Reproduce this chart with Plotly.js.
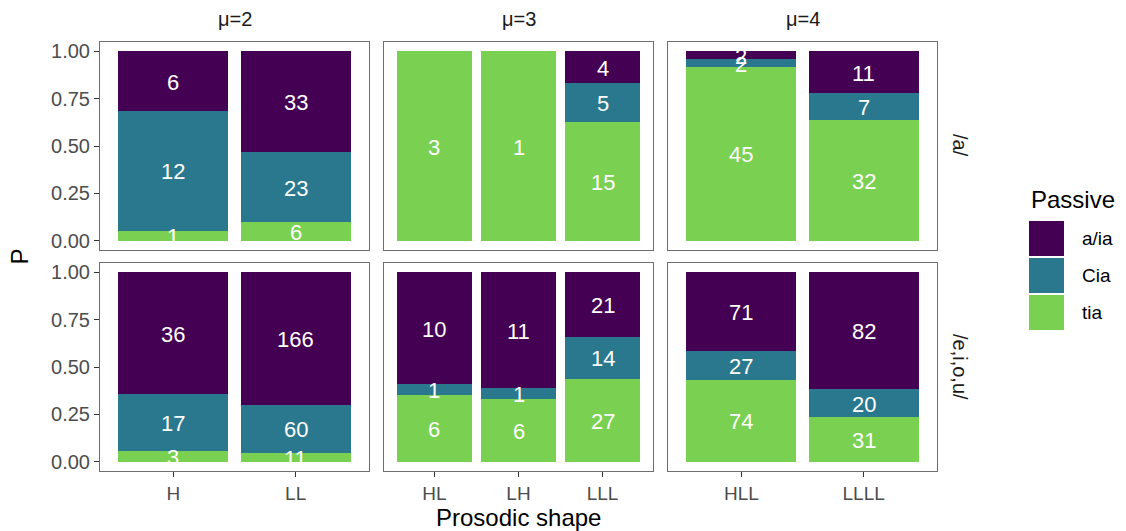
<!DOCTYPE html>
<html>
<head>
<meta charset="utf-8">
<script src="https://cdn.plot.ly/plotly-3.0.1.min.js"></script>
<style>html,body{margin:0;padding:0;background:#fff;}#chart{width:1126px;height:531px;}</style>
</head>
<body>
<div id="chart"></div>
<script>
// ---- data ----
const vowels = ['/a/', '/e,i,o,u/'];
const mus = ['μ=2', 'μ=3', 'μ=4'];
const shapeCats = [['H', 'LL'], ['HL', 'LH', 'LLL'], ['HLL', 'LLLL']];
const passive = ['a/ia', 'Cia', 'tia'];
const passiveColors = ['#440154', '#2A788E', '#7AD151'];
// counts per vowel row, per μ facet, per prosodic shape
const aia_a    = [[6, 33], [0, 0, 4], [2, 11]];
const cia_a    = [[12, 23], [0, 0, 5], [2, 7]];
const tia_a    = [[1, 6], [3, 1, 15], [45, 32]];
const aia_eiou = [[36, 166], [10, 11, 21], [71, 82]];
const cia_eiou = [[17, 60], [1, 1, 14], [27, 20]];
const tia_eiou = [[3, 11], [6, 6, 27], [74, 31]];
const yTicks = [0, 0.25, 0.5, 0.75, 1];
const yTickText = ['0.00', '0.25', '0.50', '0.75', '1.00'];

const rows = [
  {aia: aia_a, cia: cia_a, tia: tia_a},
  {aia: aia_eiou, cia: cia_eiou, tia: tia_eiou}
];

// ---- layout geometry (pixels) ----
const W = 1126, H = 531;
const colPx = [[100, 369], [384, 653], [668, 937]];
const rowPx = [[42, 250], [263, 471]];
const fx = p => p / W;
const fy = p => 1 - p / H;

const FONT = 'Liberation Sans, Arial, sans-serif';
const traces = [];
const layout = {
  width: W, height: H,
  margin: {l: 0, r: 0, t: 0, b: 0},
  paper_bgcolor: '#ffffff', plot_bgcolor: '#ffffff',
  showlegend: false,
  barmode: 'stack',
  font: {family: FONT},
  annotations: [], shapes: []
};

for (let r = 0; r < 2; r++) {
  for (let c = 0; c < 3; c++) {
    const k = r * 3 + c + 1;
    const xa = 'x' + (k === 1 ? '' : k), ya = 'y' + (k === 1 ? '' : k);
    const cats = shapeCats[c];
    const series = [rows[r].tia[c], rows[r].cia[c], rows[r].aia[c]];
    const names = ['tia', 'Cia', 'a/ia'];
    const cols = [passiveColors[2], passiveColors[1], passiveColors[0]];
    const totals = cats.map((_, i) => series.reduce((s, a) => s + a[i], 0));
    const cum = cats.map(() => 0);
    series.forEach((vals, si) => {
      const props = vals.map((v, i) => v / totals[i]);
      traces.push({
        type: 'bar', x: cats, y: props, name: names[si], xaxis: xa, yaxis: ya,
        marker: {color: cols[si], line: {width: 0}}, width: 0.9,
        hoverinfo: 'x+y+name'
      });
      vals.forEach((v, i) => {
        if (v > 0) {
          layout.annotations.push({
            text: String(v), xref: xa, yref: ya, x: cats[i], y: cum[i] + props[i] / 2,
            showarrow: false, xanchor: 'center', yanchor: 'middle', yshift: -1,
            font: {color: '#ffffff', size: 22, family: FONT}
          });
        }
        cum[i] += props[i];
      });
    });
    const n = cats.length;
    layout['xaxis' + (k === 1 ? '' : k)] = {
      domain: [fx(colPx[c][0]), fx(colPx[c][1])], anchor: ya,
      type: 'category', categoryorder: 'array', categoryarray: cats,
      range: [-0.6, n - 0.4], showgrid: false, zeroline: false,
      showline: true, mirror: true, linecolor: '#6e6e6e', linewidth: 1,
      ticks: r === 1 ? 'outside' : '', ticklen: 5, tickcolor: '#333333',
      showticklabels: r === 1,
      tickfont: {size: 19, color: '#4d4d4d', family: FONT}, fixedrange: true
    };
    layout['yaxis' + (k === 1 ? '' : k)] = {
      domain: [fy(rowPx[r][1]), fy(rowPx[r][0])], anchor: xa,
      range: [-0.05, 1.05], tickvals: yTicks, ticktext: yTickText,
      showgrid: false, zeroline: false,
      showline: true, mirror: true, linecolor: '#6e6e6e', linewidth: 1,
      ticks: c === 0 ? 'outside' : '', ticklen: 5, tickcolor: '#333333',
      showticklabels: c === 0,
      tickfont: {size: 20, color: '#4d4d4d', family: FONT}, fixedrange: true
    };
  }
}

// strip labels
mus.forEach((m, c) => {
  layout.annotations.push({
    text: m, xref: 'paper', yref: 'paper',
    x: fx((colPx[c][0] + colPx[c][1]) / 2), y: fy(19),
    showarrow: false, xanchor: 'center', yanchor: 'middle',
    font: {size: 20, color: '#1a1a1a', family: FONT}
  });
});
vowels.forEach((v, r) => {
  layout.annotations.push({
    text: v, xref: 'paper', yref: 'paper',
    x: fx(960), y: fy((rowPx[r][0] + rowPx[r][1]) / 2),
    showarrow: false, xanchor: 'center', yanchor: 'middle', textangle: 90,
    font: {size: 20, color: '#1a1a1a', family: FONT}
  });
});
// axis titles
layout.annotations.push({
  text: 'Prosodic shape', xref: 'paper', yref: 'paper',
  x: fx((colPx[0][0] + colPx[2][1]) / 2), y: fy(517),
  showarrow: false, xanchor: 'center', yanchor: 'middle',
  font: {size: 24, color: '#000000', family: FONT}
});
layout.annotations.push({
  text: 'P', xref: 'paper', yref: 'paper',
  x: fx(19), y: fy((rowPx[0][0] + rowPx[1][1]) / 2),
  showarrow: false, xanchor: 'center', yanchor: 'middle', textangle: -90,
  font: {size: 24, color: '#000000', family: FONT}
});
// legend (manual, ggplot style)
layout.annotations.push({
  text: 'Passive', xref: 'paper', yref: 'paper',
  x: fx(1029), y: fy(199), showarrow: false, xanchor: 'left', yanchor: 'middle',
  font: {size: 24, color: '#000000', family: FONT}
});
passive.forEach((p, i) => {
  const top = 221 + i * 37;
  layout.shapes.push({
    type: 'rect', xref: 'paper', yref: 'paper',
    x0: fx(1029), x1: fx(1064), y0: fy(top + 35), y1: fy(top),
    fillcolor: passiveColors[i], line: {width: 0}
  });
  layout.annotations.push({
    text: p, xref: 'paper', yref: 'paper',
    x: fx(1080), y: fy(top + 17.5), showarrow: false, xanchor: 'left', yanchor: 'middle',
    font: {size: 19, color: '#000000', family: FONT}
  });
});

Plotly.newPlot('chart', traces, layout, {displayModeBar: false, staticPlot: true});
</script>
</body>
</html>
